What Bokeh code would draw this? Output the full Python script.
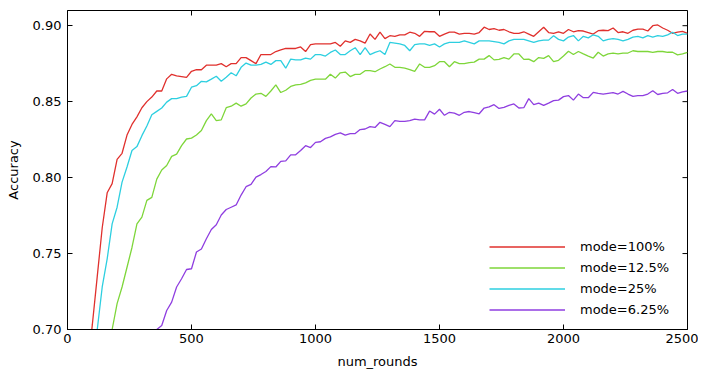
import math
from bokeh.plotting import figure
from bokeh.models import (Range1d, FixedTicker, PrintfTickFormatter,
                          Legend, LegendItem, ColumnDataSource)
from bokeh.embed import file_html
from bokeh.resources import INLINE

# ---------------- data ----------------
round_step = 20
labels = ["mode=100%", "mode=12.5%", "mode=25%", "mode=6.25%"]
colors = ["#e0302d", "#7ed63a", "#2dcfe0", "#8f3ee0"]

start_100 = 80
acc_100 = [
    0.672, 0.703, 0.735, 0.767, 0.790, 0.796, 0.812, 0.816, 0.828, 0.835,
    0.840, 0.846, 0.850, 0.853, 0.857, 0.857, 0.865, 0.868, 0.867, 0.8665,
    0.866, 0.870, 0.871, 0.871, 0.874, 0.874, 0.874, 0.875, 0.873, 0.875,
    0.875, 0.879, 0.879, 0.877, 0.875, 0.881, 0.881, 0.881, 0.883, 0.884,
    0.885, 0.885, 0.885, 0.886, 0.883, 0.8875, 0.888, 0.888, 0.888, 0.888,
    0.889, 0.8865, 0.890, 0.889, 0.891, 0.890, 0.8885, 0.8945, 0.891, 0.8957,
    0.8915, 0.8934, 0.893, 0.894, 0.894, 0.8957, 0.895, 0.893, 0.8963, 0.896,
    0.896, 0.893, 0.8945, 0.8957, 0.8957, 0.8945, 0.895, 0.895, 0.8945, 0.8955,
    0.899, 0.8975, 0.898, 0.897, 0.8975, 0.896, 0.895, 0.895, 0.896, 0.8945,
    0.893, 0.896, 0.899, 0.8955, 0.895, 0.896, 0.895, 0.8975, 0.896, 0.8967,
    0.8965, 0.8955, 0.8945, 0.8967, 0.897, 0.8968, 0.8985, 0.8955, 0.896, 0.895,
    0.897, 0.8977, 0.8977, 0.8965, 0.900, 0.9005, 0.8985, 0.897, 0.895, 0.8958,
    0.8962, 0.895,
]

start_25 = 100
acc_25 = [
    0.672, 0.700, 0.728, 0.7465, 0.7695, 0.7805, 0.797, 0.807, 0.8178, 0.8204,
    0.8276, 0.834, 0.8414, 0.8436, 0.8458, 0.8497, 0.852, 0.852, 0.853, 0.8535,
    0.8595, 0.8605, 0.8634, 0.863, 0.8648, 0.8667, 0.8634, 0.866, 0.869, 0.867,
    0.8726, 0.8754, 0.874, 0.874, 0.8745, 0.876, 0.8745, 0.877, 0.877, 0.872,
    0.878, 0.8775, 0.8775, 0.8787, 0.878, 0.881, 0.881, 0.880, 0.8824, 0.884,
    0.881, 0.881, 0.8835, 0.8855, 0.881, 0.8855, 0.881, 0.8824, 0.8835, 0.881,
    0.889, 0.8885, 0.888, 0.887, 0.8835, 0.8875, 0.888, 0.888, 0.887, 0.888,
    0.886, 0.888, 0.889, 0.889, 0.889, 0.890, 0.889, 0.888, 0.890, 0.890,
    0.890, 0.8895, 0.889, 0.888, 0.890, 0.891, 0.891, 0.891, 0.890, 0.889,
    0.890, 0.8905, 0.8905, 0.8934, 0.891, 0.890, 0.8925, 0.8935, 0.890, 0.893,
    0.892, 0.894, 0.893, 0.890, 0.891, 0.8915, 0.891, 0.890, 0.891, 0.8925,
    0.893, 0.892, 0.8935, 0.8925, 0.8935, 0.893, 0.894, 0.8957, 0.8935, 0.8945,
    0.8945,
]

start_12_5 = 160
acc_12_5 = [
    0.680, 0.700, 0.717, 0.728, 0.741, 0.754, 0.7695, 0.774, 0.785, 0.787,
    0.799, 0.805, 0.808, 0.814, 0.8155, 0.821, 0.8254, 0.826, 0.828, 0.831,
    0.8375, 0.842, 0.8375, 0.838, 0.846, 0.847, 0.849, 0.847, 0.8485, 0.8524,
    0.855, 0.8555, 0.8535, 0.857, 0.861, 0.856, 0.8575, 0.860, 0.861, 0.8613,
    0.8624, 0.864, 0.8648, 0.8648, 0.8648, 0.868, 0.8655, 0.869, 0.8695, 0.8665,
    0.868, 0.868, 0.8704, 0.8704, 0.8697, 0.8715, 0.873, 0.8748, 0.8726, 0.8726,
    0.872, 0.871, 0.870, 0.8748, 0.8726, 0.8726, 0.8737, 0.8763, 0.8763, 0.873,
    0.8763, 0.875, 0.875, 0.8757, 0.876, 0.878, 0.878, 0.8803, 0.8775, 0.8778,
    0.879, 0.878, 0.8814, 0.8814, 0.8778, 0.878, 0.8763, 0.879, 0.8785, 0.8803,
    0.8763, 0.8772, 0.880, 0.8832, 0.881, 0.883, 0.8814, 0.880, 0.8787, 0.8825,
    0.880, 0.8814, 0.882, 0.8814, 0.882, 0.882, 0.8835, 0.883, 0.883, 0.883,
    0.8825, 0.883, 0.883, 0.8825, 0.8825, 0.8808, 0.8814, 0.8825,
]

start_6_25 = 340
acc_6_25 = [
    0.690, 0.700, 0.7026, 0.7125, 0.718, 0.728, 0.7334, 0.7395, 0.740, 0.751,
    0.753, 0.7597, 0.7658, 0.769, 0.7754, 0.779, 0.7805, 0.782, 0.7885, 0.794,
    0.7955, 0.8003, 0.802, 0.804, 0.8072, 0.807, 0.8107, 0.811, 0.815, 0.815,
    0.8178, 0.821, 0.8198, 0.8232, 0.8236, 0.8258, 0.8268, 0.8285, 0.8294, 0.828,
    0.829, 0.829, 0.8316, 0.832, 0.8336, 0.833, 0.8364, 0.835, 0.8336, 0.8375,
    0.837, 0.837, 0.8375, 0.8385, 0.838, 0.838, 0.8438, 0.8418, 0.845, 0.841,
    0.843, 0.8425, 0.841, 0.843, 0.8435, 0.8428, 0.842, 0.8458, 0.8465, 0.848,
    0.8455, 0.8462, 0.8475, 0.8485, 0.8458, 0.846, 0.852, 0.848, 0.849, 0.8475,
    0.849, 0.8507, 0.851, 0.8533, 0.854, 0.851, 0.855, 0.8526, 0.8526, 0.8561,
    0.8555, 0.855, 0.8555, 0.856, 0.855, 0.8568, 0.855, 0.8535, 0.854, 0.854,
    0.855, 0.8572, 0.8547, 0.8555, 0.8558, 0.858, 0.8555, 0.8565, 0.857,
]

x_min, x_max = 0, 2500
y_min, y_max = 0.70, 0.91
x_ticks = [0, 500, 1000, 1500, 2000, 2500]
y_ticks = [0.70, 0.75, 0.80, 0.85, 0.90]

series = [
    (start_100, acc_100),
    (start_12_5, acc_12_5),
    (start_25, acc_25),
    (start_6_25, acc_6_25),
]

# ---------------- figure ----------------
FONT = "DejaVu Sans"
p = figure(width=698, height=372, output_backend="svg", toolbar_location=None,
           x_range=Range1d(x_min, x_max), y_range=Range1d(y_min, y_max),
           x_axis_label="num_rounds", y_axis_label="Accuracy")
p.min_border_left = 67
p.min_border_right = 11
p.min_border_top = 10
p.min_border_bottom = 43
p.xgrid.visible = False
p.ygrid.visible = False
p.outline_line_color = "black"
p.outline_line_width = 1
p.outline_line_alpha = 1
p.background_fill_color = "white"
p.border_fill_color = "white"

p.xaxis.ticker = FixedTicker(ticks=x_ticks)
p.yaxis.ticker = FixedTicker(ticks=y_ticks)
p.yaxis.formatter = PrintfTickFormatter(format="%.2f")
for ax in (p.xaxis[0], p.yaxis[0]):
    ax.major_tick_in = 5
    ax.major_tick_out = 0
    ax.minor_tick_in = 0
    ax.minor_tick_out = 0
    ax.major_tick_line_color = "black"
    ax.axis_line_color = "black"
    ax.major_label_text_font = FONT
    ax.major_label_text_font_size = "13px"
    ax.major_label_text_color = "black"
    ax.axis_label_text_font = FONT
    ax.axis_label_text_font_size = "13px"
    ax.axis_label_text_font_style = "normal"
    ax.axis_label_text_color = "black"
p.xaxis.major_label_standoff = 4
p.xaxis.axis_label_standoff = 8
p.yaxis.major_label_standoff = 6
p.yaxis.axis_label_standoff = 9

# mirrored inward ticks on the top and right edges (half of each dash is clipped)
p.scatter(x=x_ticks, y=[y_max] * len(x_ticks), marker="dash", size=10,
          angle=math.pi / 2, line_color="black", line_width=1)
p.scatter(x=[x_max] * len(y_ticks), y=y_ticks, marker="dash", size=10,
          line_color="black", line_width=1)

items = []
for (start, vals), lab, col in zip(series, labels, colors):
    xs = [start + round_step * i for i in range(len(vals))]
    src = ColumnDataSource(dict(x=xs, y=vals))
    r = p.line("x", "y", source=src, line_color=col, line_width=1.3)
    items.append(LegendItem(label=lab, renderers=[r]))

legend = Legend(items=items, location=(422, 9))
legend.border_line_color = None
legend.background_fill_alpha = 0
legend.padding = 0
legend.margin = 0
legend.spacing = 0
legend.glyph_width = 76
legend.glyph_height = 21
legend.label_height = 21
legend.label_standoff = 15
legend.label_text_font = FONT
legend.label_text_font_size = "13px"
legend.label_text_color = "black"
p.add_layout(legend, "center")

open("out.html", "w").write(file_html(p, INLINE))
